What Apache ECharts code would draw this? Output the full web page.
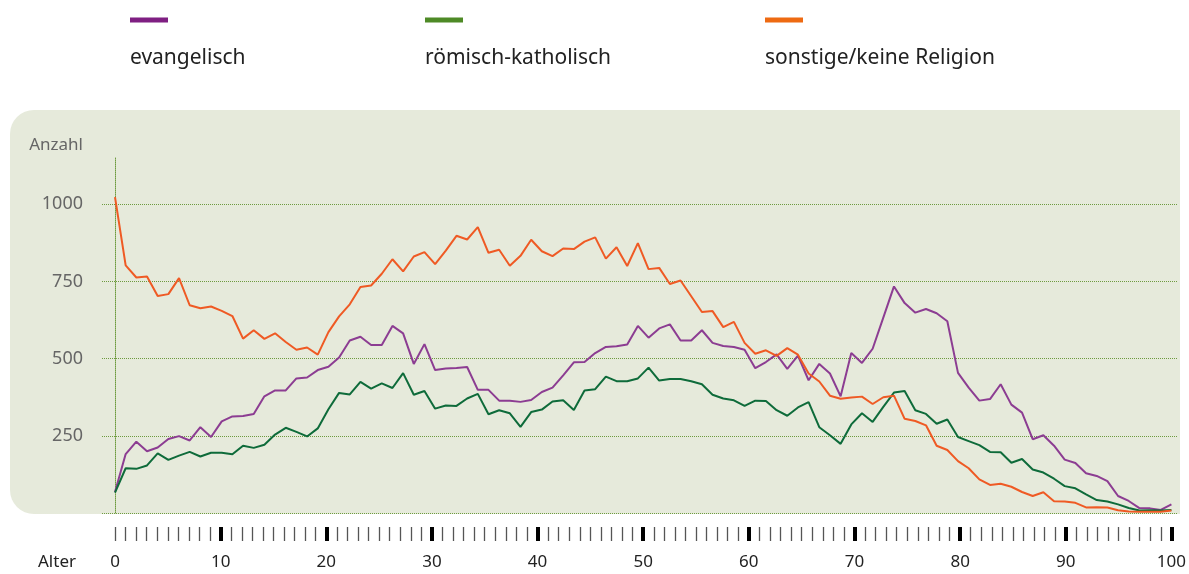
<!DOCTYPE html>
<html>
<head>
<meta charset="utf-8">
<script src="https://cdn.jsdelivr.net/npm/echarts@6/dist/echarts.min.js"></script>
<style>
html,body{margin:0;padding:0;background:#fff;}
#c{width:1189px;height:574px;}
</style>
</head>
<body>
<div id="c"></div>
<script>
// ---- data ----
const ages = Array.from({length: 100}, (_, i) => String(i));
const seriesNames = ['evangelisch', 'römisch-katholisch', 'sonstige/keine Religion'];
const evangelisch = [68,191,231,200,212,240,249,235,278,246,297,313,314,321,378,397,397,436,439,463,
  474,504,559,571,544,544,606,582,483,547,463,468,470,473,399,399,364,364,360,366,
  392,406,446,488,489,518,538,540,546,606,568,598,611,559,559,592,551,541,538,529,
  469,489,514,467,510,430,483,452,378,518,486,532,633,734,680,649,661,647,621,454,
  406,364,369,417,351,325,239,252,218,173,162,129,120,103,55,39,16,15,10,28];
const katholisch = [66,145,143,154,193,172,186,198,183,195,195,190,218,211,221,254,276,263,248,274,
  336,389,384,425,403,420,405,453,383,395,338,348,347,371,386,320,333,323,279,327,
  335,361,365,334,397,401,442,427,427,436,471,429,434,434,427,417,383,371,365,347,
  364,363,333,315,342,359,278,252,224,287,323,295,344,390,395,333,321,289,303,246,
  233,220,198,197,163,175,141,131,111,87,80,60,42,37,28,16,8,9,8,10];
const sonstige = [1023,802,763,766,703,709,761,673,663,669,655,638,565,592,564,582,554,529,536,513,
  586,637,676,732,737,775,822,783,831,845,806,850,898,886,926,843,853,801,833,885,
  848,832,857,855,879,893,824,861,800,874,790,794,742,753,702,651,654,602,619,551,
  516,527,509,534,513,452,426,380,370,374,377,353,375,380,305,298,284,218,204,168,
  145,109,91,95,85,68,55,67,38,37,33,18,19,18,9,5,4,4,4,8];
const majorTicks = [10,20,30,40,50,60,70,80,90,100];
const yTicks = [250,500,750,1000];

// ---- styles ----
const lineColors = ['#8C3D92', '#0E6B3A', '#EF5A24'];
const legendColors = ['#7F1F82', '#4E8A26', '#EE6A12'];
const legendX = [129, 424, 764];
const FONT = 'Noto Sans';
const gridGreen = '#6E9B3F';

const chart = echarts.init(document.getElementById('c'), null, {renderer: 'canvas'});

const legends = seriesNames.map((n, i) => ({
  data: [n],
  left: legendX[i] - 5,
  top: 2,
  padding: 0,
  itemWidth: 0,
  itemHeight: 0,
  selectedMode: false,
  formatter: name => '{b' + i + '|}\n{t|' + name + '}',
  textStyle: {
    fontFamily: FONT,
    rich: {
      ['b' + i]: {width: 38, height: 5, backgroundColor: legendColors[i]},
      t: {fontFamily: FONT, fontSize: 21, color: '#222', padding: [46, 0, 0, 0], lineHeight: 26}
    }
  }
}));

const series = [evangelisch, katholisch, sonstige].map((d, i) => ({
  name: seriesNames[i],
  type: 'line',
  xAxisIndex: 0,
  yAxisIndex: 0,
  data: d,
  symbol: 'none',
  silent: true,
  lineStyle: {color: lineColors[i], width: 2},
  itemStyle: {color: lineColors[i]},
  emphasis: {disabled: true},
  z: 3
}));

chart.setOption({
  animation: false,
  backgroundColor: '#ffffff',
  color: lineColors,
  textStyle: {fontFamily: FONT},
  legend: legends,
  graphic: [
    {type: 'rect', left: 10, top: 110, z: -10, silent: true,
     shape: {width: 1170, height: 404, r: [24, 0, 0, 24]},
     style: {fill: '#E6EADB'}},
    {type: 'text', x: 83, y: 145, z: 10, silent: true,
     style: {text: 'Anzahl', fill: '#666', font: '17px "Noto Sans"', align: 'right', verticalAlign: 'middle'}},
    {type: 'text', x: 38, y: 562, z: 10, silent: true,
     style: {text: 'Alter', fill: '#222', font: '17px "Noto Sans"', align: 'left', verticalAlign: 'middle'}}
  ],
  grid: [
    {left: 115, right: 15, top: 158, bottom: 61},
    {left: 102, right: 11, top: 158, bottom: 61}
  ],
  xAxis: [
    {type: 'category', gridIndex: 0, data: ages, boundaryGap: false, show: false, position: 'bottom'},
    {type: 'value', gridIndex: 0, min: 0, max: 100, interval: 1, position: 'bottom', offset: 14,
     axisLine: {show: false, onZero: false},
     axisTick: {show: true, length: 14, lineStyle: {color: '#555', width: 1.3}},
     axisLabel: {show: false}, splitLine: {show: false}},
    {type: 'value', gridIndex: 0, min: 0, max: 100, interval: 10, position: 'bottom', offset: 14,
     axisLine: {show: false, onZero: false},
     axisTick: {show: true, length: 14, customValues: majorTicks, lineStyle: {color: '#000', width: 4}},
     axisLabel: {margin: 27, color: '#222', fontSize: 17, fontFamily: FONT},
     splitLine: {show: false}},
    {type: 'value', gridIndex: 1, min: 0, max: 100, show: false}
  ],
  yAxis: [
    {type: 'value', gridIndex: 0, min: 0, max: 1150, interval: 250,
     axisLine: {show: true, onZero: false, lineStyle: {color: gridGreen, type: 'dotted', width: 1}},
     axisTick: {show: false}, splitLine: {show: false},
     axisLabel: {margin: 32, color: '#666', fontSize: 18, fontFamily: FONT,
       formatter: v => (yTicks.indexOf(v) >= 0 ? String(v) : '')}},
    {type: 'value', gridIndex: 1, min: 0, max: 1150, interval: 250,
     axisLine: {show: false}, axisTick: {show: false}, axisLabel: {show: false},
     splitLine: {show: true, showMaxLine: false, lineStyle: {color: gridGreen, type: 'dotted', width: 1}}}
  ],
  series: series
});
</script>
</body>
</html>
